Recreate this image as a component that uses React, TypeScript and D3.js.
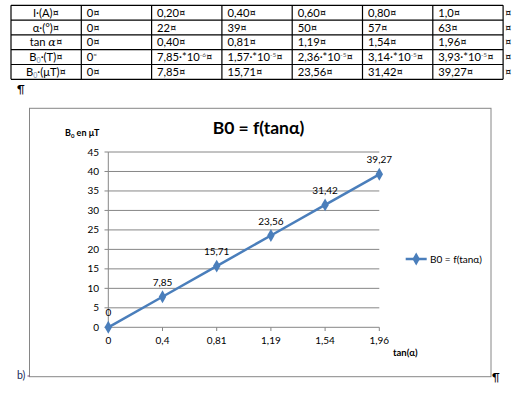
import React from "react";
import * as d3 from "d3";

// table rows (as printed in the document)
const rowHeads = ["I·(A)", "α·(°)", "tan α", "B0·(T)", "B0·(μT)"];
const currentA = ["0", "0,20", "0,40", "0,60", "0,80", "1,0"];
const alphaDeg = ["0", "22", "39", "50", "57", "63"];
const tanAlphaTxt = ["0", "0,40", "0,81", "1,19", "1,54", "1,96"];
const b0Mant = ["0", "7,85·*10", "1,57·*10", "2,36·*10", "3,14·*10", "3,93·*10"];
const b0Exp = ["", "-6", "-5", "-5", "-5", "-5"];
const b0uT = ["0", "7,85", "15,71", "23,56", "31,42", "39,27"];

// chart data
const tanCats = ["0", "0,4", "0,81", "1,19", "1,54", "1,96"];
const b0Values = [0, 7.85, 15.71, 23.56, 31.42, 39.27];
const yTicks = [0, 5, 10, 15, 20, 25, 30, 35, 40, 45];

const font = "Lato, 'Open Sans', sans-serif";
const blue = "#4A7EBB";
const grid = "#868686";

const App = () => {
  const tblX = 11;
  const tblY = 5.3;
  const colW = 70.3;
  const rowH = 14.8;
  const rows = [currentA, alphaDeg, tanAlphaTxt, b0Mant, b0uT];

  const x = d3.scalePoint<string>().domain(tanCats).range([108.3, 379.3]);
  const y = d3.scaleLinear().domain([0, 45]).range([327.3, 152]);
  const line = d3
    .line<number>()
    .x((_, i) => x(tanCats[i]) as number)
    .y((d) => y(d));
  const diamond = d3.symbol().type(d3.symbolDiamond).size(48)() as string;
  const fmt = (v: number) => (v === 0 ? "0" : v.toFixed(2).replace(".", ","));

  return (
    <svg width={529} height={397} style={{ position: "absolute", left: 0, top: 0 }} fontFamily={font}>
      <rect width={529} height={397} fill="#fff" />
      {/* table */}
      <g fontSize={11.2} fill="#000">
        {rows.map((r, ri) => {
          const ty = tblY + ri * rowH;
          const base = ty + rowH / 2 + 4;
          return (
            <g key={ri}>
              <text x={tblX + 35} y={base} textAnchor="middle">
                {ri >= 3 ? (
                  <>
                    <tspan>B</tspan>
                    <tspan fontSize={7} dy={2} fill="#6a7fa8">0</tspan>
                    <tspan dy={-2}>{rowHeads[ri].slice(2)}¤</tspan>
                  </>
                ) : ri === 2 ? (
                  <>
                    <tspan>tan </tspan>
                    <tspan fontStyle="italic" fontFamily="'DejaVu Serif', serif">α</tspan>
                    <tspan>¤</tspan>
                  </>
                ) : (
                  rowHeads[ri] + "¤"
                )}
              </text>
              {r.map((v, ci) => (
                <text key={ci} x={tblX + colW * (ci + 1) + 5.5} y={base}>
                  {ri === 3 ? (
                    <>
                      <tspan>{v}</tspan>
                      <tspan fontSize={6.5} dy={-4} fill="#555">
                        {b0Exp[ci] === "" ? "¤" : b0Exp[ci]}
                      </tspan>
                      <tspan dy={4}>{b0Exp[ci] === "" ? "" : "¤"}</tspan>
                    </>
                  ) : (
                    v + "¤"
                  )}
                </text>
              ))}
              <text x={tblX + colW * 7 + 2} y={base}>¤</text>
            </g>
          );
        })}
        {d3.range(6).map((i) => (
          <line key={"h" + i} x1={tblX} x2={tblX + colW * 7} y1={tblY + i * rowH} y2={tblY + i * rowH} stroke="#000" strokeWidth={1.2} />
        ))}
        {d3.range(8).map((i) => (
          <line key={"v" + i} x1={tblX + i * colW} x2={tblX + i * colW} y1={tblY} y2={tblY + 5 * rowH} stroke="#000" strokeWidth={1.2} />
        ))}
        <text x={17} y={93} fontSize={11}>¶</text>
      </g>

      {/* chart frame */}
      <rect x={29.5} y={108.3} width={461.5} height={268.4} fill="#fff" stroke={grid} strokeWidth={1} />
      <text x={258.5} y={133.5} textAnchor="middle" fontSize={17.5} fontWeight="bold" fill="#000">
        B0 = f(tanα)
      </text>
      <text x={65} y={136} fontSize={9} fontWeight="bold" fill="#000">
        <tspan>B</tspan>
        <tspan fontSize={6} dy={2}>0</tspan>
        <tspan dy={-2}> en μT</tspan>
      </text>

      {/* grid and y axis */}
      {yTicks.map((t) => (
        <g key={t}>
          {t > 0 && <line x1={108.3} x2={379.3} y1={y(t)} y2={y(t)} stroke={grid} strokeWidth={1} />}
          <line x1={104.5} x2={108.3} y1={y(t)} y2={y(t)} stroke={grid} strokeWidth={1} />
          <text x={99} y={y(t) + 3.5} textAnchor="end" fontSize={10} fill="#000">
            {t}
          </text>
        </g>
      ))}
      <line x1={108.3} x2={108.3} y1={152} y2={327.3} stroke={grid} strokeWidth={1} />
      <line x1={108.3} x2={379.3} y1={327.3} y2={327.3} stroke={grid} strokeWidth={1} />
      {tanCats.map((c) => (
        <g key={c}>
          <line x1={x(c)} x2={x(c)} y1={327.3} y2={331} stroke={grid} strokeWidth={1} />
          <text x={x(c)} y={343.5} textAnchor="middle" fontSize={10} fill="#000">
            {c}
          </text>
        </g>
      ))}
      <text x={393} y={356} fontSize={9.5} fontWeight="bold" fill="#000">
        tan(α)
      </text>

      {/* series */}
      <path d={line(b0Values) as string} fill="none" stroke={blue} strokeWidth={2.5} />
      {b0Values.map((v, i) => (
        <g key={i}>
          <path d={diamond} transform={`translate(${x(tanCats[i])},${y(v)})`} fill={blue} />
          <text x={x(tanCats[i])} y={y(v) - 11} textAnchor="middle" fontSize={10} fill="#000">
            {fmt(v)}
          </text>
        </g>
      ))}

      {/* legend */}
      <line x1={405.7} x2={426.7} y1={259} y2={259} stroke={blue} strokeWidth={2.5} />
      <path d={diamond} transform="translate(416.2,259)" fill={blue} />
      <text x={430} y={262.5} fontSize={10} fill="#000">
        B0 = f(tanα)
      </text>

      {/* document text around the chart */}
      <text x={17} y={379} fontSize={10.5} fill="#1a2a5a">b)</text>
      <line x1={27.5} x2={29.5} y1={376} y2={376} stroke="#7a3a6a" strokeWidth={1} />
      <text x={492} y={381} fontSize={11} fill="#000">¶</text>
    </svg>
  );
};

export default App;
